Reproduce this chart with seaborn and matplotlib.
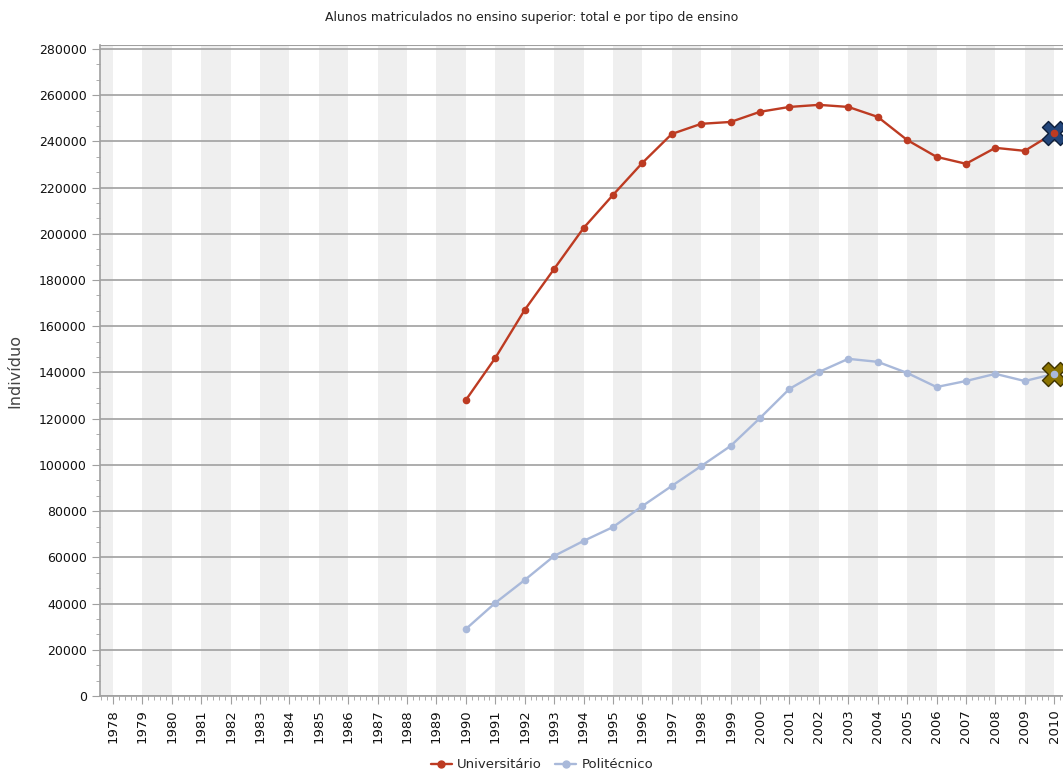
import numpy as np
import pandas as pd
import seaborn as sns
import matplotlib.pyplot as plt
from matplotlib.ticker import MultipleLocator, AutoMinorLocator
from matplotlib.lines import Line2D

years_axis = list(range(1978, 2011))
years = list(range(1990, 2011))
universitario = [128100, 146300, 167100, 184800, 202500, 216800, 230700, 243200, 247600, 248400,
                 252800, 254900, 255800, 254900, 250600, 240600, 233300, 230300, 237200, 235900, 243700]
politecnico = [29000, 40300, 50200, 60600, 67100, 73100, 82200, 90900, 99500, 108200,
               120300, 132900, 140200, 145900, 144600, 139800, 133700, 136300, 139400, 136300, 139400]
series_names = ["Universitário", "Politécnico"]
colors = ["#bd3b22", "#a9b9da"]

df = pd.DataFrame({
    "Ano": years * 2,
    "Alunos": universitario + politecnico,
    "Tipo": [series_names[0]] * len(years) + [series_names[1]] * len(years),
})

sns.set_style("white")
plt.rcParams['font.family'] = ['DejaVu Sans']

fig = plt.figure(figsize=(10.63, 7.74), dpi=100)
ax = fig.add_axes([100 / 1063, 1 - 696 / 774, 963 / 1063, (696 - 45) / 774])

# alternating bands
for y0 in range(years_axis[0] - 1, years_axis[-1] + 1, 2):
    ax.axvspan(y0, y0 + 1, color="#efefef", lw=0, zorder=0)

sns.lineplot(data=df, x="Ano", y="Alunos", hue="Tipo", palette=colors, marker="o",
             markersize=5.5, markeredgewidth=0, linewidth=1.7, ax=ax, legend=False, zorder=3)

# highlight markers on the last point
ax.scatter([years[-1]], [universitario[-1]], marker="X", s=300, color="#22457a",
           edgecolor="#0d1e3a", linewidth=1, zorder=4)
ax.scatter([years[-1]], [politecnico[-1]], marker="X", s=300, color="#8b7300",
           edgecolor="#3d3200", linewidth=1, zorder=4)
ax.plot([years[-1]], [universitario[-1]], "o", color=colors[0], ms=5.5, mew=0, zorder=5)
ax.plot([years[-1]], [politecnico[-1]], "o", color=colors[1], ms=5.5, mew=0, zorder=5)

ax.set_xlim(1977.56, 2010.3)
ax.set_ylim(0, 281700)
ax.yaxis.set_major_locator(MultipleLocator(20000))
ax.yaxis.set_minor_locator(AutoMinorLocator(3))
ax.set_xticks(years_axis)
ax.set_xticklabels([str(y) for y in years_axis], rotation=90)
ax.xaxis.set_minor_locator(AutoMinorLocator(5))
ax.grid(axis="y", color="#a0a0a0", linewidth=1.2, zorder=1)
ax.set_axisbelow(True)

for s in ["top", "right"]:
    ax.spines[s].set_visible(False)
for s in ["left", "bottom"]:
    ax.spines[s].set_color("#a0a0a0")
    ax.spines[s].set_linewidth(1.2)
ax.axhline(281700, color="#a0a0a0", lw=1.5, zorder=2)

ax.tick_params(axis="both", which="major", length=6, color="#a0a0a0", labelsize=9,
               labelcolor="#111111", direction="out")
ax.tick_params(axis="x", which="major", labelsize=9.5)
ax.tick_params(axis="both", which="minor", length=3, color="#a0a0a0", direction="out")
ax.tick_params(axis="x", which="both", bottom=True)
ax.tick_params(axis="y", which="both", left=True)

ax.set_xlabel("")
ax.set_ylabel("Indivíduo", fontsize=11.5, color="#444444", labelpad=12)
fig.text(0.5, 1 - 18 / 774, "Alunos matriculados no ensino superior: total e por tipo de ensino",
         ha="center", va="center", fontsize=9, color="#222222")

handles = [Line2D([], [], color=c, marker="o", markersize=5, lw=1.7) for c in colors]
fig.legend(handles, series_names, loc="center", bbox_to_anchor=(0.51, 1 - 765 / 774), ncol=2,
           frameon=False, fontsize=9.5, handlelength=1.6, columnspacing=1.0, handletextpad=0.4)

fig.savefig("out.png", dpi=100)
